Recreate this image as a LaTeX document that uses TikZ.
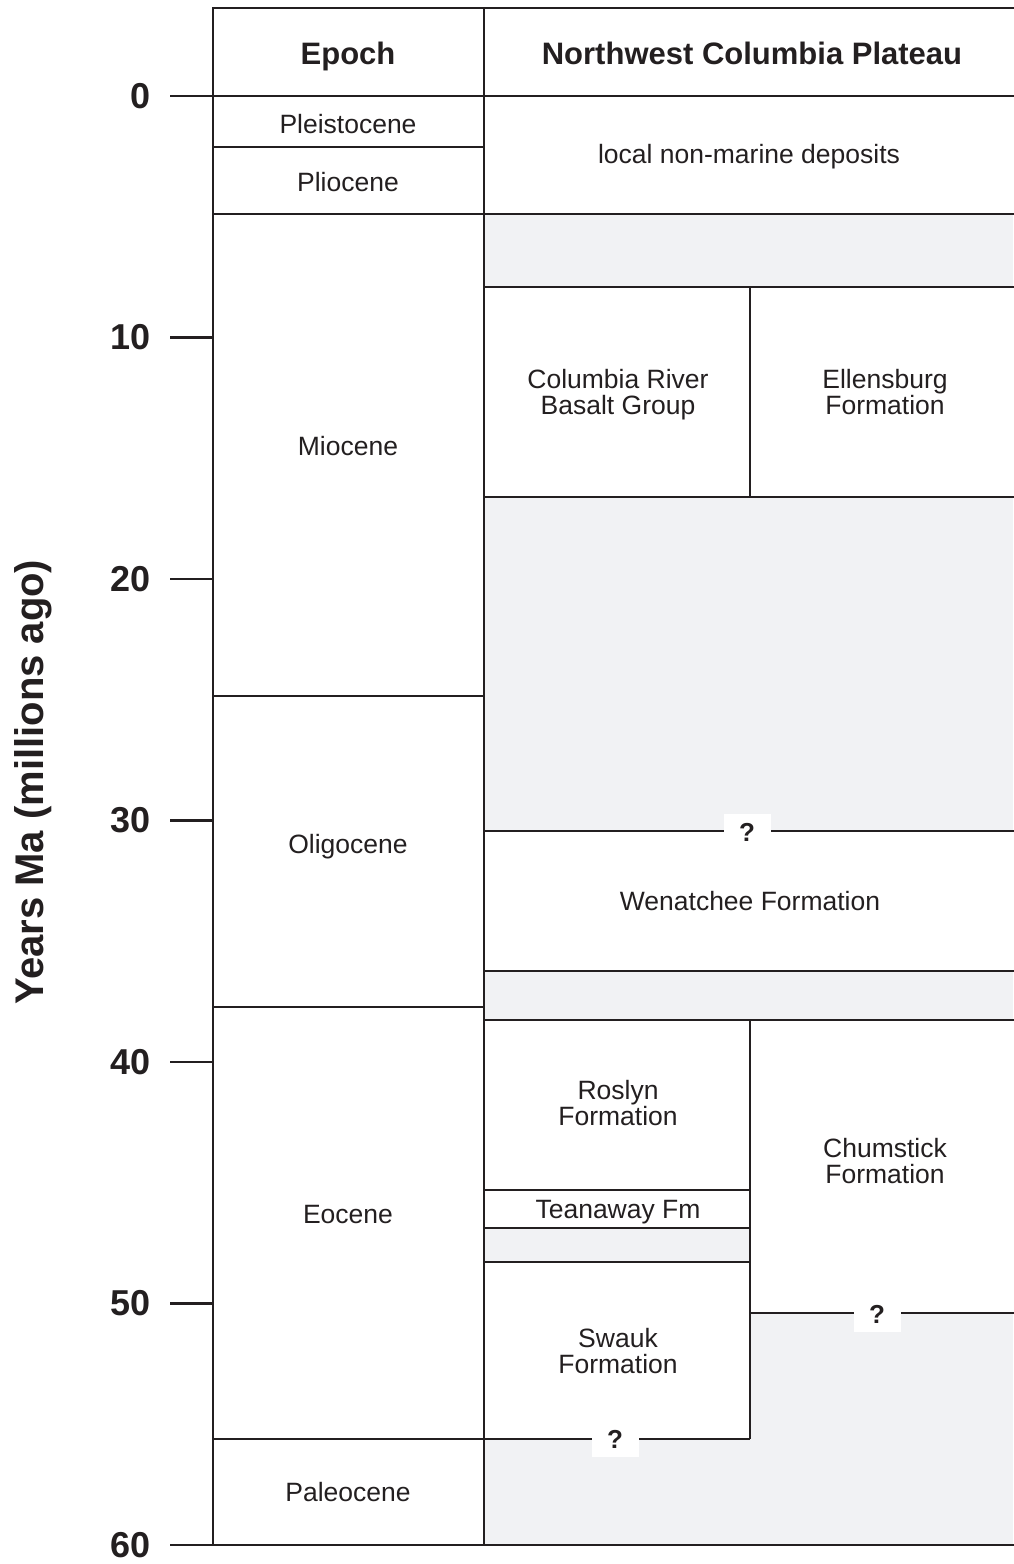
\documentclass[tikz,border=0pt]{standalone}
\usepackage{fontspec}
\setmainfont{Liberation Sans}
\definecolor{ink}{HTML}{231F20}
\definecolor{gap}{HTML}{F1F2F4}
\begin{document}
\begin{tikzpicture}[x=1pt,y=-1pt,
  grid/.style={draw=ink,line width=2.8pt},
  tickline/.style={draw=ink,line width=2.2pt},
  hdr/.style={text=ink,font=\fontsize{31}{34}\selectfont\bfseries,align=center},
  cell/.style={text=ink,font=\fontsize{26.5}{26}\selectfont,align=center},
  ticklab/.style={text=ink,font=\fontsize{36}{40}\selectfont\bfseries,anchor=east,inner sep=0pt},
  qmark/.style={fill=white,text=ink,font=\fontsize{26}{28}\selectfont\bfseries,minimum width=47pt,minimum height=36pt,inner sep=0pt}]
\useasboundingbox (0,0) rectangle (1013,1564);
% gap fills
\fill[gap] (484,214) rectangle (1013,287);
\fill[gap] (484,497) rectangle (1013,831);
\fill[gap] (484,971) rectangle (1013,1020);
\fill[gap] (484,1228) rectangle (750,1262);
\fill[gap] (750,1313) rectangle (1013,1545);
\fill[gap] (484,1439) rectangle (750,1545);
% frame
\draw[grid] (1014,8) -- (213,8) -- (213,1545) -- (1014,1545);
\draw[grid] (484,8) -- (484,1545);
\draw[grid] (213,96) -- (1014,96);
\draw[grid] (213,147) -- (484,147);
\draw[grid] (213,214) -- (1014,214);
\draw[grid] (484,287) -- (1014,287);
\draw[grid] (750,287) -- (750,497);
\draw[grid] (484,497) -- (1014,497);
\draw[grid] (213,696) -- (484,696);
\draw[grid] (484,831) -- (1014,831);
\draw[grid] (484,971) -- (1014,971);
\draw[grid] (213,1007) -- (484,1007);
\draw[grid] (484,1020) -- (1014,1020);
\draw[grid] (750,1020) -- (750,1439);
\draw[grid] (484,1190) -- (750,1190);
\draw[grid] (484,1228) -- (750,1228);
\draw[grid] (484,1262) -- (750,1262);
\draw[grid] (750,1313) -- (1014,1313);
\draw[grid] (213,1439) -- (750,1439);
% ticks and labels
\foreach \v [count=\i from 0] in {0,10,20,30,40,50,60}{
  \draw[tickline] (170,96+24.15*\v) -- (213,96+24.15*\v);
  \node[ticklab] (t\i) at (151,96+24.15*\v) {\v};
}
\node[text=ink,font=\fontsize{40}{44}\selectfont\bfseries,rotate=90] (ylab) at (33,782) {Years Ma (millions ago)};
% headers
\node[hdr] (hepoch) at (348,56) {Epoch};
\node[hdr] (hnw) at (752,53) {Northwest Columbia Plateau};
% epochs
\node[cell] (pleis) at (348,124) {Pleistocene};
\node[cell] (plio) at (348,182) {Pliocene};
\node[cell] (mio) at (348,446) {Miocene};
\node[cell] (oligo) at (348,847) {Oligocene};
\node[cell] (eoc) at (348,1214) {Eocene};
\node[cell] (paleo) at (348,1492) {Paleocene};
% formations
\node[cell] (local) at (749,157) {local non-marine deposits};
\node[cell] (crbg) at (618,395) {Columbia River\\Basalt Group};
\node[cell] (ellen) at (885,392) {Ellensburg\\Formation};
\node[cell] (wen) at (750,901) {Wenatchee Formation};
\node[cell] (roslyn) at (618,1103) {Roslyn\\Formation};
\node[cell] (chum) at (885,1161) {Chumstick\\Formation};
\node[cell] (tean) at (618,1212) {Teanaway Fm};
\node[cell] (swauk) at (618,1351) {Swauk\\Formation};
% question marks
\node[qmark] (q1) at (747,832) {?};
\node[qmark] (q2) at (615,1439) {?};
\node[qmark] (q3) at (877,1314) {?};
\end{tikzpicture}
\end{document}
